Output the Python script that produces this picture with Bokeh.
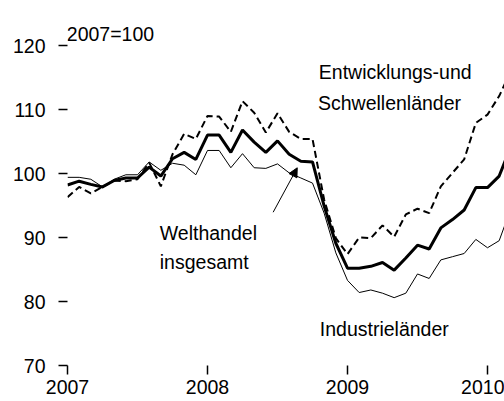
from bokeh.plotting import figure
from bokeh.models import FixedTicker, Label, Arrow, NormalHead, Range1d
from bokeh.embed import file_html
from bokeh.resources import INLINE

# Monthly index values, Jan 2007 .. Mar 2010 (2007=100)
months = [2007 + i / 12 for i in range(39)]
welthandel = [98.2, 98.8, 98.3, 97.9, 98.9, 99.3, 99.3, 101.0, 99.6, 102.3, 103.3, 102.2,
              106.0, 106.0, 103.3, 106.8, 104.9, 103.3, 105.1, 103.0, 101.9, 101.8, 94.9, 89.1,
              85.2, 85.2, 85.5, 86.1, 84.9, 86.8, 88.8, 88.2, 91.5, 92.8, 94.3, 97.8,
              97.8, 99.6, 104.2]
entwicklung = [96.3, 97.9, 96.9, 97.9, 98.9, 98.8, 99.1, 101.7, 98.0, 103.0, 106.2, 105.4,
               109.0, 108.9, 106.5, 111.3, 109.5, 106.4, 109.4, 106.5, 105.4, 105.4, 95.9, 89.9,
               87.4, 90.0, 89.9, 91.9, 90.1, 93.6, 94.5, 93.8, 98.0, 100.1, 102.2, 107.9,
               109.2, 112.1, 116.0]
industrie = [99.4, 99.4, 99.1, 97.9, 99.1, 99.8, 99.8, 101.8, 100.5, 101.6, 101.3, 99.8,
             103.6, 103.6, 100.9, 103.1, 100.9, 100.8, 101.5, 100.1, 99.3, 98.5, 93.8, 87.6,
             83.3, 81.4, 81.8, 81.3, 80.6, 81.3, 84.3, 83.6, 86.5, 87.0, 87.5, 89.7,
             88.4, 89.5, 94.5]
y_ticks = [70, 80, 90, 100, 110, 120]
x_ticks = [2007, 2008, 2009, 2010]
x_tick_labels = {2007: "2007", 2008: "2008", 2009: "2009", 2010: "2010"}

FONT = "Liberation Sans"
FS = "19.5px"

p = figure(width=504, height=401, output_backend="svg", toolbar_location=None,
           x_range=Range1d(2007, 2007 + 437 / 140), y_range=Range1d(70, 70 + 365 / 6.4),
           min_border_left=67, min_border_right=0, min_border_top=0, min_border_bottom=36)
p.outline_line_color = None
p.xgrid.visible = False
p.ygrid.visible = False
p.background_fill_color = "white"
p.border_fill_color = "white"

p.line(months, industrie, line_color="black", line_width=1)
p.line(months, entwicklung, line_color="black", line_width=2, line_dash="7 4")
p.line(months, welthandel, line_color="black", line_width=3)

for ax in (p.xaxis[0], p.yaxis[0]):
    ax.axis_line_color = None
    ax.major_tick_line_color = "black"
    ax.major_tick_line_width = 1.5
    ax.major_tick_in = 0
    ax.major_tick_out = 9
    ax.minor_tick_line_color = None
    ax.major_label_text_font = FONT
    ax.major_label_text_font_size = FS
    ax.major_label_text_color = "black"

p.yaxis.ticker = FixedTicker(ticks=y_ticks)
p.yaxis.major_label_standoff = 13
p.xaxis.ticker = FixedTicker(ticks=x_ticks)
p.xaxis.major_label_overrides = x_tick_labels
p.xaxis.major_label_standoff = 5

def lab(x, y, t):
    p.add_layout(Label(x=x, y=y, text=t, text_font=FONT, text_font_size=FS,
                       text_color="black", text_baseline="alphabetic", text_align="left"))

lab(2006.995, 121.72, "2007=100")
lab(2008.795, 115.86, "Entwicklungs-und")
lab(2008.789, 110.94, "Schwellenländer")
lab(2007.659, 90.78, "Welthandel")
lab(2007.659, 86.25, "insgesamt")
lab(2008.802, 75.78, "Industrieländer")

p.add_layout(Arrow(x_start=2008.469, y_start=93.95, x_end=2008.641, y_end=100.89,
                   line_color="black", line_width=1,
                   end=NormalHead(size=9, fill_color="black", line_color="black", line_width=1)))

open("out.html", "w").write(file_html(p, INLINE))
